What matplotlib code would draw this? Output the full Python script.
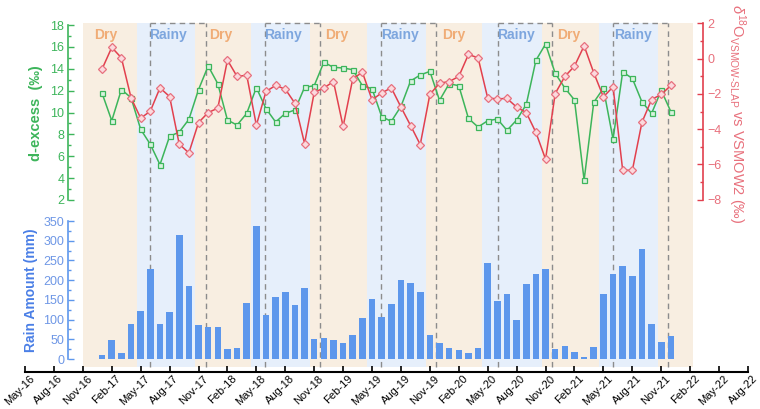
import matplotlib
matplotlib.use("Agg")
import matplotlib.pyplot as plt
from matplotlib.ticker import MultipleLocator
from matplotlib.transforms import ScaledTranslation

plt.rcParams['font.family'] = ['Liberation Sans', 'DejaVu Sans']
plt.rcParams['mathtext.fontset'] = 'custom'
plt.rcParams['mathtext.rm'] = 'Liberation Sans'
plt.rcParams['mathtext.it'] = 'Liberation Sans:italic'

# x axis = months counted from May-16
tick_pos = list(range(0, 76, 3))
tick_labels = ["May-16", "Aug-16", "Nov-16", "Feb-17", "May-17", "Aug-17", "Nov-17",
               "Feb-18", "May-18", "Aug-18", "Nov-18", "Feb-19", "May-19", "Aug-19",
               "Nov-19", "Feb-20", "May-20", "Aug-20", "Nov-20", "Feb-21", "May-21",
               "Aug-21", "Nov-21", "Feb-22", "May-22", "Aug-22"]

# monthly samples Jan-17 .. Dec-21
month = list(range(8, 68))
rain = [10, 48, 15, 88, 121, 229, 90, 119, 314, 184, 87, 82, 80, 25, 29, 141, 337,
        111, 156, 171, 136, 181, 51, 53, 48, 41, 61, 103, 153, 107, 140, 201, 193, 169,
        60, 41, 29, 24, 15, 29, 243, 148, 164,
        98, 191, 216, 229, 26, 34, 19, 5, 30, 164, 216, 235, 210, 278, 89, 43, 58]
dexcess = [11.75, 9.25, 12.1, 11.35, 8.46, 7.09, 5.23, 7.82, 8.21, 9.37, 12.09, 14.25,
           12.63, 9.31, 8.85, 9.92, 12.27,
           10.35, 9.13, 9.92, 10.23, 12.3, 12.45, 14.59, 14.13, 14.07, 13.91, 12.45, 12.18,
           9.62, 9.19, 10.56, 12.88, 13.43, 13.76, 11.11, 12.63, 12.45, 9.46, 8.67, 9.25,
           9.4, 8.37,
           9.31, 10.74, 14.77, 16.26, 13.58, 12.24, 11.14, 3.82, 10.93, 12.21, 7.57, 13.7,
           13.12, 10.96, 9.92, 12.02, 10.07]
d18o = [-0.58, 0.64, 0.05, -2.22, -3.38, -2.98, -1.66, -2.15, -4.86, -5.35, -3.63, -3.06,
        -2.81, -0.08, -1.01, -0.94, -3.78,
        -1.86, -1.52, -1.73, -2.53, -4.82, -1.92, -1.66, -1.30, -3.85, -1.14, -0.77, -2.34,
        -1.94, -1.66, -2.75, -3.80, -4.88, -2.03, -1.39, -1.30, -1.01, 0.24, 0.05, -2.24,
        -2.28, -2.26,
        -2.75, -3.06, -4.19, -5.71, -1.98, -1.01, -0.42, 0.73, -0.80, -2.17, -1.60, -6.33,
        -6.35, -3.61, -2.32, -2.03, -1.52]

season_edges = [6, 11.6, 17.6, 23.4, 29.6, 35.5, 41.6, 47.4, 53.6, 59.5, 65.7, 69.3]
season_names = ["Dry", "Rainy"] * 5 + ["Dry"]
dash_pairs = [(13.0, 18.8), (24.9, 30.6), (36.9, 42.6), (49.1, 54.7), (61.0, 66.7)]
label_x = [7.2, 12.9, 19.1, 24.8, 31.1, 36.9, 43.3, 49.0, 55.2, 61.1]
label_txt = ["Dry", "Rainy"] * 5

c_dry, c_rainy = '#F8EEE1', '#E6EFFB'
c_drytxt, c_raintxt = '#F0AC76', '#7DA6DE'
c_green, c_red, c_blue = '#3DB55B', '#E2404E', '#5D97EC'
c_redtxt = '#E8707C'

W, H = 760, 409
fig = plt.figure(figsize=(W / 100, H / 100), dpi=100)

def box(l, t, r, b):
    return [l / W, 1 - b / H, (r - l) / W, (b - t) / H]

ax_bg = fig.add_axes(box(25, 23, 748, 372))
ax_d = fig.add_axes(box(25, 25, 748, 200))
ax_o = fig.add_axes(box(25, 23.5, 748, 199.5))
ax_r = fig.add_axes(box(25, 221, 748, 359))

# background: seasons, dashed brackets, date axis
ax_bg.set_xlim(0, 75)
ax_bg.set_ylim(0, 1)
y0 = 0.014
for i, name in enumerate(season_names):
    ax_bg.axvspan(season_edges[i], season_edges[i + 1], ymin=y0, ymax=1,
                  color=c_dry if name == "Dry" else c_rainy, lw=0)
for a, b in dash_pairs:
    ax_bg.vlines([a, b], y0, 1, colors='#8c8c8c', lw=1, linestyles=(0, (4, 3)))
    ax_bg.hlines(1, a, b, colors='#8c8c8c', lw=1, linestyles=(0, (4, 3)), clip_on=False)
for x, t in zip(label_x, label_txt):
    ax_bg.text(x, 0.966, t, color=c_drytxt if t == "Dry" else c_raintxt,
               fontsize=10, fontweight='bold', ha='left', va='center')
for s in ['top', 'left', 'right']:
    ax_bg.spines[s].set_visible(False)
ax_bg.spines['bottom'].set_linewidth(1.5)
ax_bg.set_yticks([])
ax_bg.set_xticks(tick_pos)
ax_bg.set_xticklabels(tick_labels, rotation=45, ha='right', va='top',
                      rotation_mode='anchor', fontsize=8)
ax_bg.tick_params(axis='x', direction='in', length=4, width=1.2, pad=1)
shift = ScaledTranslation(4 / 100, 0, fig.dpi_scale_trans)
for lab in ax_bg.get_xticklabels():
    lab.set_transform(lab.get_transform() + shift)

def style_left(ax, color, tickcolor, major, minor, spine_x=4.5):
    ax.set_xlim(0, 75)
    ax.patch.set_visible(False)
    for s in ['top', 'right', 'bottom']:
        ax.spines[s].set_visible(False)
    ax.spines['left'].set_position(('data', spine_x))
    ax.spines['left'].set_color(color)
    ax.spines['left'].set_linewidth(1.2)
    ax.set_xticks([])
    ax.yaxis.set_major_locator(MultipleLocator(major))
    ax.yaxis.set_minor_locator(MultipleLocator(minor))
    ax.tick_params(axis='y', which='major', direction='in', length=4, width=1,
                   color=color, labelcolor=tickcolor, labelsize=9, pad=3)
    ax.tick_params(axis='y', which='minor', direction='in', length=2, width=1, color=color)

# d-excess
ax_d.plot(month, dexcess, color=c_green, lw=1.1, marker='s', ms=3.6,
          mfc='#D8F2DE', mec=c_green, mew=0.9, zorder=3)
ax_d.set_ylim(2, 18)
style_left(ax_d, c_green, c_green, 2, 1)

# d18O
ax_o.plot(month, d18o, color=c_red, lw=1.1, marker='D', ms=4.2,
          mfc='#FBD9DD', mec='#E7707E', mew=0.9, zorder=3)
ax_o.set_ylim(-8, 2)
ax_o.set_xlim(0, 75)
ax_o.patch.set_visible(False)
for s in ['top', 'left', 'bottom']:
    ax_o.spines[s].set_visible(False)
ax_o.spines['right'].set_position(('data', 70.33))
ax_o.spines['right'].set_color(c_red)
ax_o.spines['right'].set_linewidth(1.2)
ax_o.set_xticks([])
ax_o.yaxis.tick_right()
ax_o.yaxis.set_major_locator(MultipleLocator(2))
ax_o.yaxis.set_minor_locator(MultipleLocator(1))
ax_o.tick_params(axis='y', which='major', direction='in', length=4, width=1,
                 color=c_red, labelcolor=c_redtxt, labelsize=9, pad=3)
ax_o.tick_params(axis='y', which='minor', direction='in', length=2, width=1, color=c_red)

# rain
ax_r.bar(month, rain, width=0.68, color=c_blue, zorder=3)
ax_r.set_ylim(0, 350)
style_left(ax_r, c_blue, '#6E97E6', 50, 25)

fig.text(36 / W, 1 - 113 / H, "d-excess  (‰)", rotation=90, ha='center', va='center',
         color=c_green, fontsize=10.5, fontweight='bold')
fig.text(31 / W, 1 - 290 / H, "Rain Amount (mm)", rotation=90, ha='center', va='center',
         color='#4A7FE6', fontsize=10, fontweight='bold')
fig.text(737 / W, 1 - 114 / H,
         r"$\delta^{18}$O$_{\mathregular{VSMOW\text{-}SLAP}}$ vs VSMOW2 (‰)",
         rotation=-90, ha='center', va='center', color=c_redtxt, fontsize=10.5)

fig.savefig("out.png", dpi=100)
